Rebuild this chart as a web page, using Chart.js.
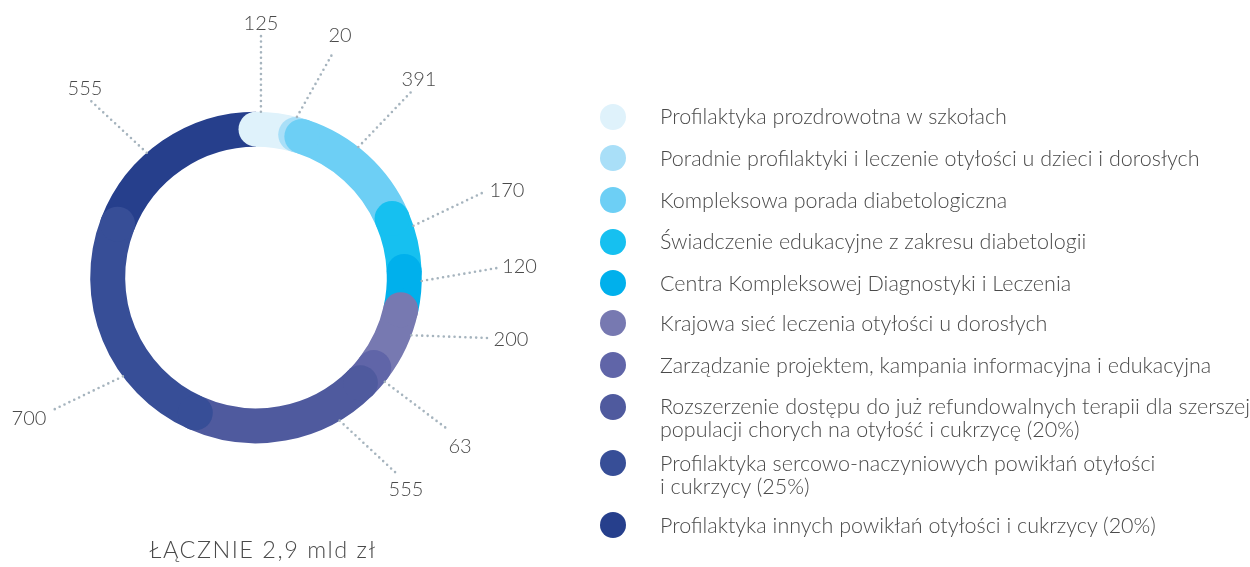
<!DOCTYPE html>
<html>
<head>
<meta charset="utf-8">
<script src="https://cdn.jsdelivr.net/npm/chart.js@4"></script>
<style>
  body { margin: 0; background: #fff; font-family: Lato, sans-serif; font-weight: 300; color: #4a4a4a; }
  #wrap { position: relative; width: 1250px; height: 567px; overflow: hidden; }
  #chart { position: absolute; left: 0; top: 0; }
  .item { position: absolute; left: 600px; }
  .dot { position: absolute; left: 0; width: 26px; height: 26px; border-radius: 50%; }
  .txt { position: absolute; left: 60px; top: 1.7px; font-size: 21.5px; line-height: 23px; white-space: nowrap; }
  #total { position: absolute; left: 63px; width: 400px; text-align: center; font-size: 23.5px; letter-spacing: 1.5px; line-height: 24px; top: 537px; }
</style>
</head>
<body>
<div id="wrap">
  <canvas id="chart" width="1250" height="567"></canvas>
  <div id="legend"></div>
  <div id="total">ŁĄCZNIE 2,9 mld zł</div>
</div>
<script>
// dane
const categories = [
  ['Profilaktyka prozdrowotna w szkołach'],
  ['Poradnie profilaktyki i leczenie otyłości u dzieci i dorosłych'],
  ['Kompleksowa porada diabetologiczna'],
  ['Świadczenie edukacyjne z zakresu diabetologii'],
  ['Centra Kompleksowej Diagnostyki i Leczenia'],
  ['Krajowa sieć leczenia otyłości u dorosłych'],
  ['Zarządzanie projektem, kampania informacyjna i edukacyjna'],
  ['Rozszerzenie dostępu do już refundowalnych terapii dla szerszej', 'populacji chorych na otyłość i cukrzycę (20%)'],
  ['Profilaktyka sercowo-naczyniowych powikłań otyłości', 'i cukrzycy (25%)'],
  ['Profilaktyka innych powikłań otyłości i cukrzycy (20%)']
];
const values = [125, 20, 391, 170, 120, 200, 63, 555, 700, 555];
const colors = ['#dff2fb', '#a9dff8', '#6dcff5', '#16c0f0', '#00b0ec',
                '#7779b1', '#6065a8', '#4f5a9e', '#374e97', '#263f8c'];

// opisy wartości: kąt startu linii (stopnie od góry), koniec linii i tekst względem środka
const callouts = [
  { angle: 1.7,   end: [5, -242.5],   text: [5, -247.5] },
  { angle: 14.3,  end: [78, -226.5],  text: [84, -235.5] },
  { angle: 38.1,  end: [155, -185.5], text: [163, -191.5] },
  { angle: 71.8,  end: [226, -84.5],  text: [251, -80.5] },
  { angle: 91.2,  end: [241, -9.5],   text: [263.5, -4.5] },
  { angle: 110.4, end: [232, 60.5],   text: [255, 68.5] },
  { angle: 129,   end: [190, 150.5],  text: [204, 175.5] },
  { angle: 149.7, end: [140, 195.5],  text: [150, 218.5] },
  { angle: 233.4, end: [-203, 132.5], text: [-227, 147.5] },
  { angle: 318.8, end: [-165, -176.5], text: [-171, -182.5] }
];
const legendY = [116.7, 158.3, 200, 241.7, 283.3, 323.3, 365, 406.7, 463.3, 525];

// legenda
const legendBox = document.getElementById('legend');
categories.forEach((lines, i) => {
  const item = document.createElement('div');
  item.className = 'item';
  item.style.top = (legendY[i] - 13) + 'px';
  const dot = document.createElement('div');
  dot.className = 'dot';
  dot.style.background = colors[i];
  const txt = document.createElement('div');
  txt.className = 'txt';
  txt.innerHTML = lines.join('<br>');
  item.appendChild(dot);
  item.appendChild(txt);
  legendBox.appendChild(item);
});

// zaokrąglone początki segmentów
const roundCaps = {
  id: 'roundCaps',
  afterDatasetsDraw(chart) {
    const ctx = chart.ctx;
    const arcs = chart.getDatasetMeta(0).data;
    const n = arcs.length;
    const cap = (arc, a, color) => {
      const r = (arc.innerRadius + arc.outerRadius) / 2;
      const w = (arc.outerRadius - arc.innerRadius) / 2;
      ctx.beginPath();
      ctx.arc(arc.x + Math.cos(a) * r, arc.y + Math.sin(a) * r, w, 0, Math.PI * 2);
      ctx.fillStyle = color;
      ctx.fill();
    };
    ctx.save();
    for (let i = 0; i < n - 1; i++) cap(arcs[i], arcs[i].startAngle, colors[i]);
    cap(arcs[n - 2], arcs[n - 2].endAngle, colors[n - 2]);
    ctx.restore();
  }
};

// linie kropkowane i wartości
const valueLabels = {
  id: 'valueLabels',
  afterDraw(chart) {
    const ctx = chart.ctx;
    const arc = chart.getDatasetMeta(0).data[0];
    const cx = arc.x, cy = arc.y, R = arc.outerRadius;
    ctx.save();
    callouts.forEach((c, i) => {
      const a = (c.angle - 90) * Math.PI / 180;
      ctx.beginPath();
      ctx.moveTo(cx + Math.cos(a) * R, cy + Math.sin(a) * R);
      ctx.lineTo(cx + c.end[0], cy + c.end[1]);
      ctx.setLineDash([0, 5.4]);
      ctx.lineCap = 'round';
      ctx.lineWidth = 2.6;
      ctx.strokeStyle = '#a6b4be';
      ctx.stroke();
      ctx.setLineDash([]);
      ctx.font = '300 20px Lato';
      ctx.fillStyle = '#4a4a4a';
      ctx.textAlign = 'center';
      ctx.textBaseline = 'alphabetic';
      ctx.fillText(String(values[i]), cx + c.text[0], cy + c.text[1]);
    });
    ctx.restore();
  }
};

new Chart(document.getElementById('chart'), {
  type: 'doughnut',
  data: {
    labels: categories.map(l => l.join(' ')),
    datasets: [{
      data: values,
      backgroundColor: colors,
      borderWidth: 0
    }]
  },
  options: {
    responsive: false,
    animation: false,
    cutout: '78.9%',
    layout: { padding: { left: 90.2, top: 111.7, right: 828.2, bottom: 123.7 } },
    plugins: { legend: { display: false }, tooltip: { enabled: false } }
  },
  plugins: [roundCaps, valueLabels]
});
</script>
</body>
</html>
